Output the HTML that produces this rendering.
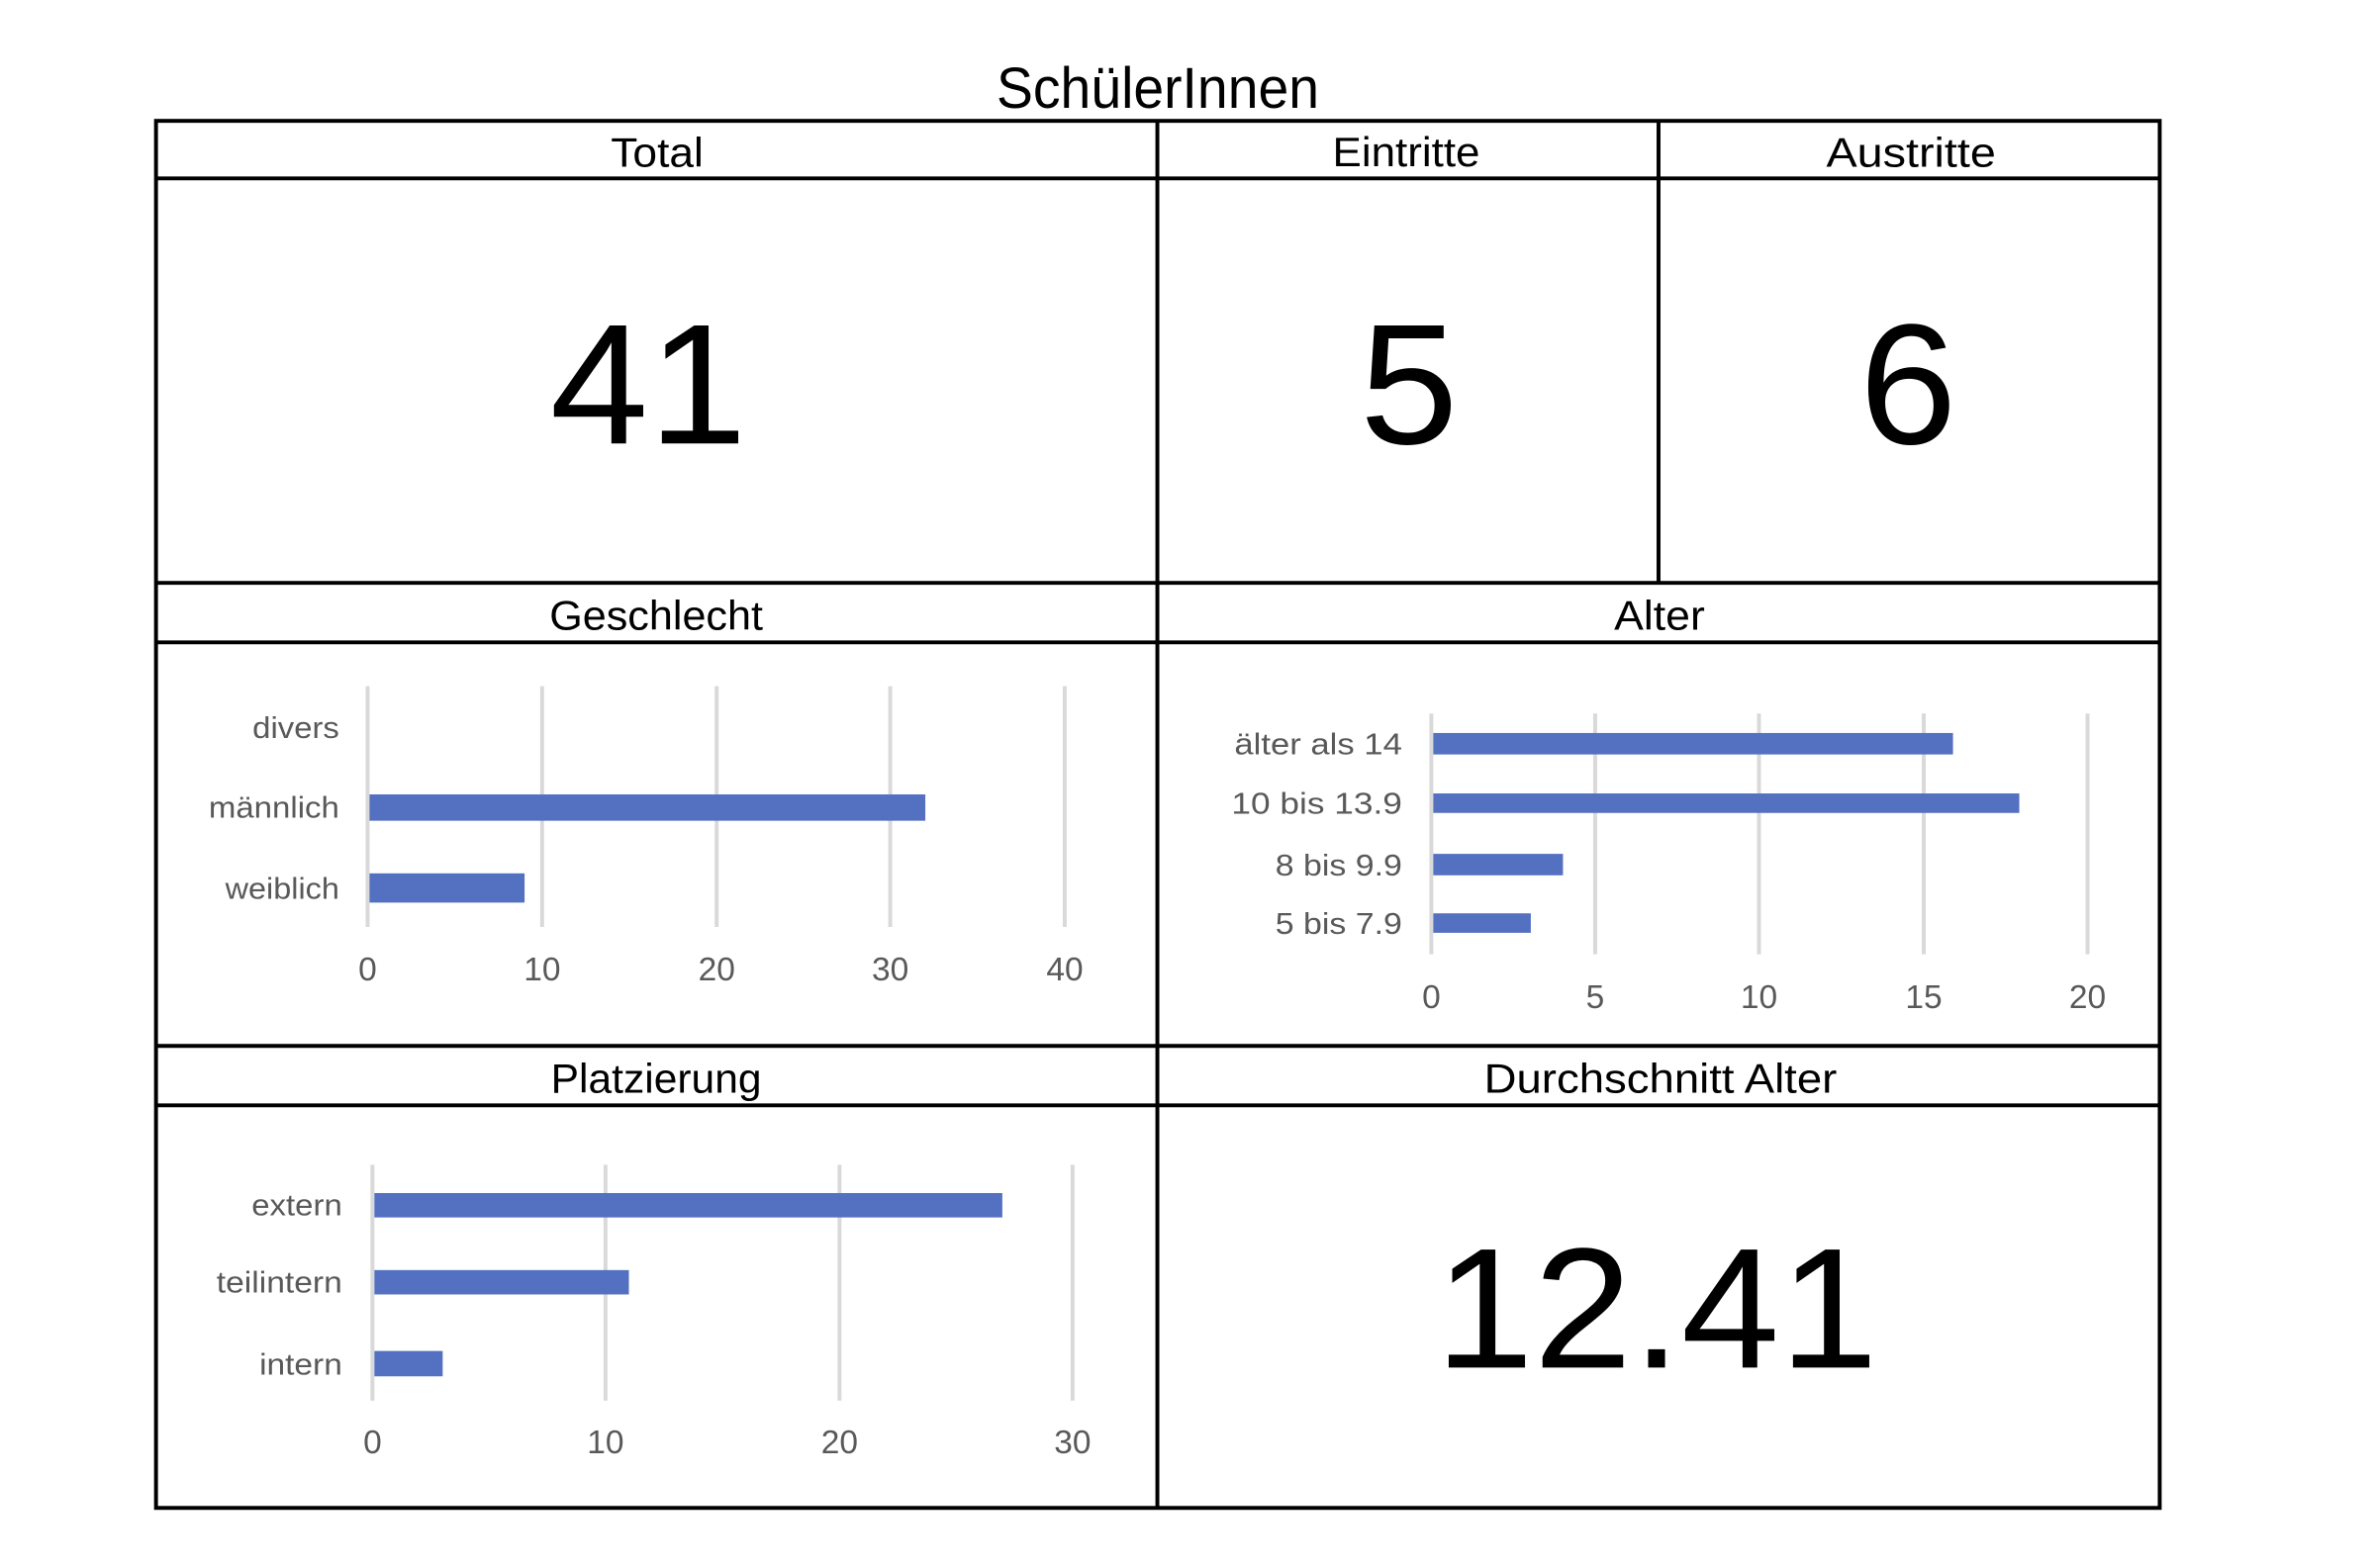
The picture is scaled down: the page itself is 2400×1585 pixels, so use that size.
<!DOCTYPE html>
<html><head><meta charset="utf-8"><style>body{margin:0;background:#fff}svg{display:block}</style></head>
<body>
<svg width="2400" height="1585" viewBox="0 0 2400 1585" xmlns="http://www.w3.org/2000/svg" font-family="Liberation Sans, sans-serif">
<text x="1170" y="109" font-size="58" text-anchor="middle" textLength="326" lengthAdjust="spacingAndGlyphs">SchülerInnen</text>
<text x="1421" y="168" font-size="42" text-anchor="middle" textLength="149" lengthAdjust="spacingAndGlyphs">Eintritte</text>
<g transform="scale(0.9853)">
<g fill="#000">
<text x="674" y="171" font-size="42" text-anchor="middle" textLength="95" lengthAdjust="spacingAndGlyphs">Total</text>
<text x="1960" y="171" font-size="42" text-anchor="middle" textLength="174" lengthAdjust="spacingAndGlyphs">Austritte</text>
<text x="673" y="646" font-size="42" text-anchor="middle" textLength="219" lengthAdjust="spacingAndGlyphs">Geschlecht</text>
<text x="1702" y="646" font-size="42" text-anchor="middle" textLength="93" lengthAdjust="spacingAndGlyphs">Alter</text>
<text x="673" y="1121" font-size="42" text-anchor="middle" textLength="216" lengthAdjust="spacingAndGlyphs">Platzierung</text>
<text x="1703" y="1121" font-size="42" text-anchor="middle" textLength="362" lengthAdjust="spacingAndGlyphs">Durchschnitt Alter</text>
<text x="665" y="455" font-size="176" text-anchor="middle" textLength="202" lengthAdjust="spacingAndGlyphs">41</text>
<text x="1445" y="455" font-size="176" text-anchor="middle" textLength="101" lengthAdjust="spacingAndGlyphs">5</text>
<text x="1957" y="455" font-size="176" text-anchor="middle" textLength="100" lengthAdjust="spacingAndGlyphs">6</text>
<text x="1699" y="1403" font-size="176" text-anchor="middle" textLength="454" lengthAdjust="spacingAndGlyphs">12.41</text>
</g>
<g stroke="#000" stroke-width="4" fill="none">
<rect x="160" y="124" width="2055" height="1423"/>
<line x1="160" y1="183" x2="2215" y2="183"/>
<line x1="160" y1="598" x2="2215" y2="598"/>
<line x1="160" y1="659" x2="2215" y2="659"/>
<line x1="160" y1="1073" x2="2215" y2="1073"/>
<line x1="160" y1="1134" x2="2215" y2="1134"/>
<line x1="1187" y1="124" x2="1187" y2="1547"/>
<line x1="1701" y1="124" x2="1701" y2="598"/>
</g>
<g stroke="#d9d9d9" stroke-width="4">
<line x1="377" y1="704" x2="377" y2="951"/><line x1="556" y1="704" x2="556" y2="951"/><line x1="735" y1="704" x2="735" y2="951"/><line x1="913" y1="704" x2="913" y2="951"/><line x1="1092" y1="704" x2="1092" y2="951"/>
<line x1="1468" y1="732" x2="1468" y2="979"/><line x1="1636" y1="732" x2="1636" y2="979"/><line x1="1804" y1="732" x2="1804" y2="979"/><line x1="1973" y1="732" x2="1973" y2="979"/><line x1="2141" y1="732" x2="2141" y2="979"/>
<line x1="382" y1="1195" x2="382" y2="1437"/><line x1="621" y1="1195" x2="621" y2="1437"/><line x1="861" y1="1195" x2="861" y2="1437"/><line x1="1100" y1="1195" x2="1100" y2="1437"/>
</g>
<g fill="#5470c1">
<rect x="379" y="815" width="570" height="27"/>
<rect x="379" y="896" width="159" height="30"/>
<rect x="1470" y="752" width="533" height="22"/>
<rect x="1470" y="814" width="601" height="20"/>
<rect x="1470" y="876" width="133" height="22"/>
<rect x="1470" y="937" width="100" height="20"/>
<rect x="384" y="1224" width="644" height="25"/>
<rect x="384" y="1303" width="261" height="25"/>
<rect x="384" y="1386" width="70" height="26"/>
</g>
<g fill="#595959" font-size="31" text-anchor="end">
<text x="348" y="757" textLength="89" lengthAdjust="spacingAndGlyphs">divers</text>
<text x="348" y="839" textLength="134" lengthAdjust="spacingAndGlyphs">männlich</text>
<text x="348" y="922" textLength="117" lengthAdjust="spacingAndGlyphs">weiblich</text>
<text x="1438" y="774" textLength="172" lengthAdjust="spacingAndGlyphs">älter als 14</text>
<text x="1438" y="835" textLength="175" lengthAdjust="spacingAndGlyphs">10 bis 13.9</text>
<text x="1438" y="898" textLength="130" lengthAdjust="spacingAndGlyphs">8 bis 9.9</text>
<text x="1438" y="958" textLength="130" lengthAdjust="spacingAndGlyphs">5 bis 7.9</text>
<text x="351" y="1247" textLength="93" lengthAdjust="spacingAndGlyphs">extern</text>
<text x="351" y="1326" textLength="129" lengthAdjust="spacingAndGlyphs">teilintern</text>
<text x="351" y="1410" textLength="85" lengthAdjust="spacingAndGlyphs">intern</text>
</g>
<g fill="#595959" font-size="34" text-anchor="middle">
<text x="377" y="1006">0</text><text x="556" y="1006">10</text><text x="735" y="1006">20</text><text x="913" y="1006">30</text><text x="1092" y="1006">40</text>
<text x="1468" y="1034">0</text><text x="1636" y="1034">5</text><text x="1804" y="1034">10</text><text x="1973" y="1034">15</text><text x="2141" y="1034">20</text>
<text x="382" y="1491">0</text><text x="621" y="1491">10</text><text x="861" y="1491">20</text><text x="1100" y="1491">30</text>
</g>
</g>
</svg>
</body></html>
